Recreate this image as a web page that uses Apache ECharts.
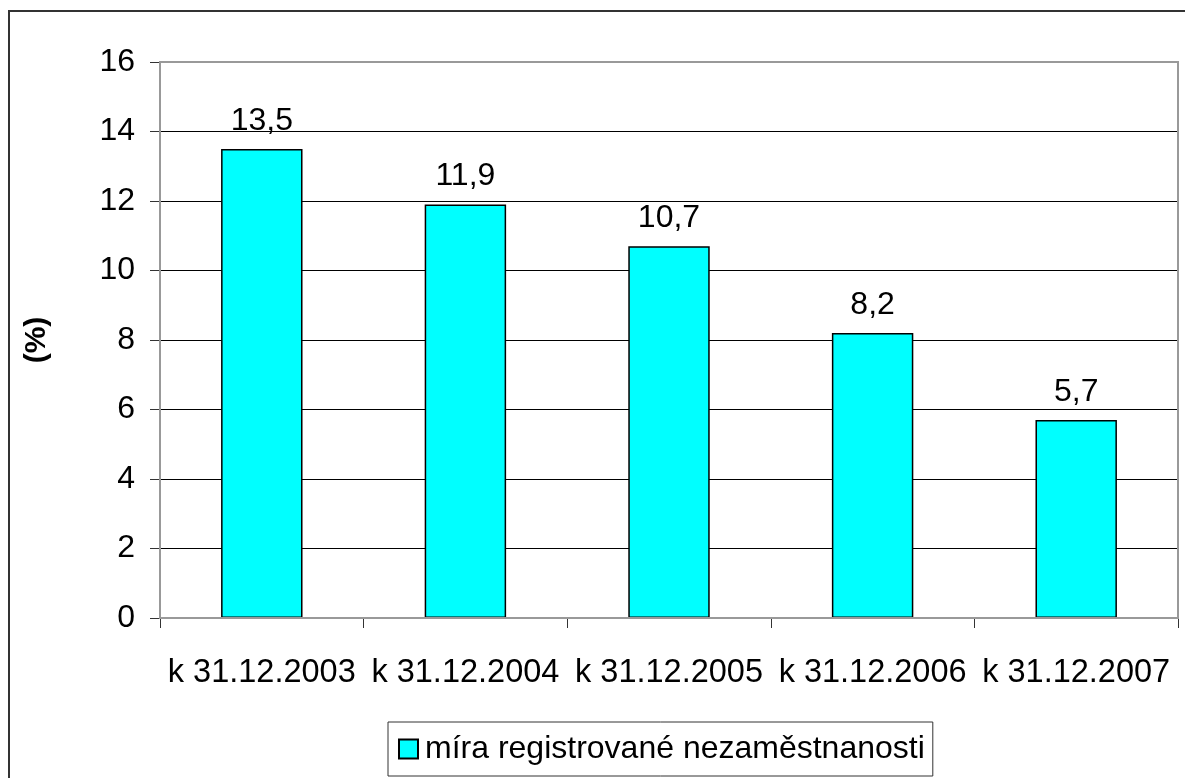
<!DOCTYPE html>
<html>
<head>
<meta charset="utf-8">
<script src="https://cdn.jsdelivr.net/npm/echarts@6/dist/echarts.min.js"></script>
<style>
  html, body { margin: 0; padding: 0; background: #fff; }
  #chart { width: 1185px; height: 778px; }
</style>
</head>
<body>
<div id="chart"></div>
<script>
// data
var categories = ['k 31.12.2003', 'k 31.12.2004', 'k 31.12.2005', 'k 31.12.2006', 'k 31.12.2007'];
var values = [13.5, 11.9, 10.7, 8.2, 5.7];
var seriesName = 'míra registrované nezaměstnanosti';
var yTicks = [0, 2, 4, 6, 8, 10, 12, 14, 16];

var font = 'Liberation Sans, Arial, sans-serif';

var grid = { left: 160, top: 62, width: 1018, height: 556 };

var myChart = echarts.init(document.getElementById('chart'));
myChart.setOption({
    backgroundColor: '#fff',
    animation: false,
    grid: grid,
    legend: {
        data: [{ name: seriesName, icon: 'rect' }],
        left: 388,
        top: 722,
        itemWidth: 19,
        itemHeight: 19,
        itemGap: 10,
        padding: [11, 8, 11, 10],
        borderColor: '#333',
        borderWidth: 1,
        textStyle: { fontFamily: font, fontSize: 32, color: '#000', padding: [0, 0, 0, 2] }
    },
    xAxis: {
        type: 'category',
        data: categories,
        axisLine: { lineStyle: { color: '#333', width: 1.5 } },
        axisTick: { show: true, length: 10, alignWithLabel: false, lineStyle: { color: '#333' } },
        axisLabel: { margin: 39, fontFamily: font, fontSize: 32.5, color: '#000', interval: 0 }
    },
    yAxis: {
        type: 'value',
        min: yTicks[0],
        max: yTicks[yTicks.length - 1],
        interval: 2,
        name: '(%)',
        nameLocation: 'middle',
        nameGap: 108,
        nameTextStyle: { fontFamily: font, fontSize: 30, fontWeight: 'bold', color: '#000' },
        axisLine: { show: true, lineStyle: { color: '#333', width: 1.5 } },
        axisTick: { show: true, length: 10, lineStyle: { color: '#333' } },
        axisLabel: { margin: 25, fontFamily: font, fontSize: 32, color: '#000' },
        splitLine: { show: true, lineStyle: { color: '#000', width: 1 } }
    },
    series: [{
        name: seriesName,
        type: 'bar',
        data: values,
        barCategoryGap: '60%',
        itemStyle: { color: '#00ffff', borderColor: '#000', borderWidth: 1.5 },
        label: {
            show: true,
            position: 'top',
            distance: 12,
            fontFamily: font,
            fontSize: 32,
            color: '#000',
            formatter: function(p) {
                return String(p.value).replace('.', ',');
            }
        }
    }],
    graphic: [{
        // outer chart frame
        type: 'rect',
        shape: { x: 9, y: 11, width: 1300, height: 900 },
        style: { fill: null, stroke: '#333', lineWidth: 2 },
        silent: true
    }, {
        // plot area frame (grey top/right)
        type: 'rect',
        z: 100,
        shape: { x: grid.left, y: grid.top, width: grid.width, height: grid.height },
        style: { fill: null, stroke: '#999', lineWidth: 2 },
        silent: true
    }]
});
</script>
</body>
</html>
